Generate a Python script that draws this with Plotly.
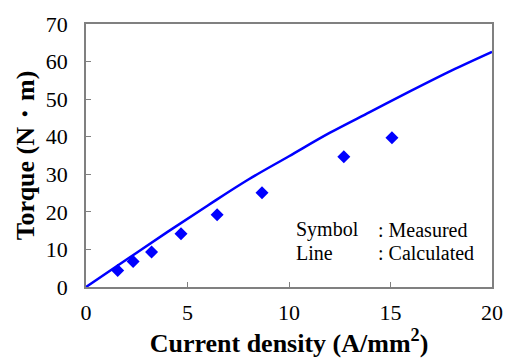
import plotly.graph_objects as go

# Measured (symbols)
meas_x = [1.56, 2.32, 3.23, 4.68, 6.46, 8.67, 12.7, 15.07]
meas_y = [4.4, 6.8, 9.3, 14.2, 19.2, 25.1, 34.7, 39.7]

# Calculated (line)
calc_x = [0, 2, 4, 6, 8, 10, 12, 14, 16, 18, 20]
calc_y = [0, 7.3, 14.6, 21.7, 28.6, 34.8, 41.0, 46.6, 52.2, 57.6, 62.6]

x_ticks = [0, 5, 10, 15, 20]
y_ticks = [0, 10, 20, 30, 40, 50, 60, 70]

blue = "#0000FF"
font_family = "Times New Roman, Liberation Serif, serif"

fig = go.Figure()
fig.add_trace(go.Scatter(x=calc_x, y=calc_y, mode="lines",
                         line=dict(color=blue, width=2.5, shape="spline"),
                         showlegend=False))
fig.add_trace(go.Scatter(x=meas_x, y=meas_y, mode="markers",
                         marker=dict(symbol="diamond", color=blue, size=10),
                         showlegend=False))

ann_font = dict(family=font_family, size=20, color="black")
fig.add_annotation(xref="paper", yref="paper", x=0.513, y=0.218, xanchor="left", yanchor="middle",
                   text="Symbol", showarrow=False, font=ann_font)
fig.add_annotation(xref="paper", yref="paper", x=0.513, y=0.131, xanchor="left", yanchor="middle",
                   text="Line", showarrow=False, font=ann_font)
fig.add_annotation(xref="paper", yref="paper", x=0.715, y=0.218, xanchor="left", yanchor="middle",
                   text=": Measured", showarrow=False, font=ann_font)
fig.add_annotation(xref="paper", yref="paper", x=0.715, y=0.131, xanchor="left", yanchor="middle",
                   text=": Calculated", showarrow=False, font=ann_font)

axis_common = dict(showgrid=False, zeroline=False, showline=True, linecolor="#808080", linewidth=1.5,
                   mirror=True, ticks="inside", ticklen=5, tickcolor="#808080", tickwidth=1,
                   tickfont=dict(family=font_family, size=22, color="black"))

fig.update_xaxes(range=[0, 20], tickvals=x_ticks, ticklabelstandoff=5,
                 title=dict(text="<b>Current density (A/mm<sup>2</sup>)</b>",
                            font=dict(family=font_family, size=26, color="black"), standoff=0),
                 **axis_common)
fig.update_yaxes(range=[0, 70], tickvals=y_ticks, ticklabelstandoff=12,
                 title=dict(text="<b>Torque (N・m)</b>",
                            font=dict(family=font_family, size=26, color="black"), standoff=4),
                 **axis_common)

fig.update_layout(width=515, height=358, margin=dict(l=86, r=16, t=17, b=71),
                  plot_bgcolor="white", paper_bgcolor="white",
                  font=dict(family=font_family))

fig.write_html("out.html")
